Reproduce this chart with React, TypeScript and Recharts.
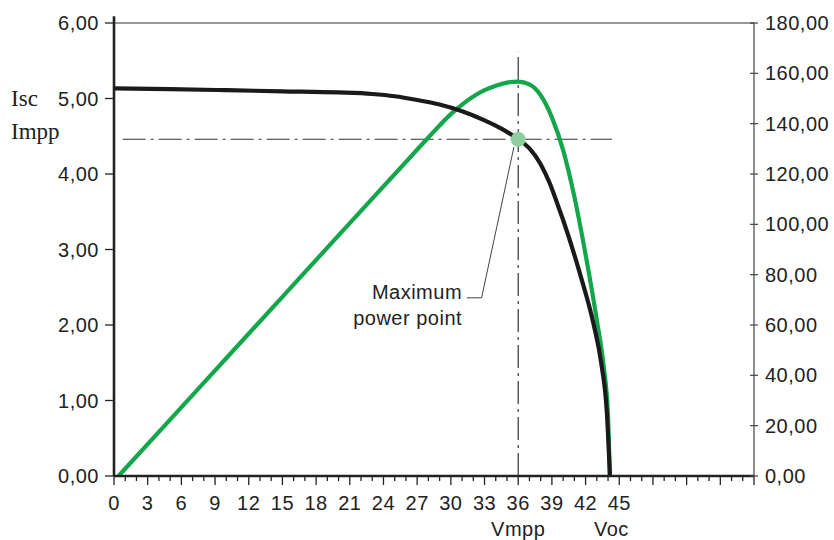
import React from 'react';
import { LineChart, Line, XAxis, YAxis, ReferenceLine, ReferenceDot } from 'recharts';

// I-V curve of the module: voltage (V) against current (A)
const ivVoltage = [0, 5, 10, 15, 20, 23, 25, 27, 29, 31, 33, 34.5, 36, 37, 38, 38.8, 39.5, 40, 41.5, 42.7, 43.4, 43.9, 44.17];
const ivCurrent = [5.135, 5.125, 5.11, 5.095, 5.08, 5.06, 5.03, 4.98, 4.92, 4.83, 4.71, 4.6, 4.46, 4.34, 4.13, 3.88, 3.6, 3.39, 2.68, 2.02, 1.49, 0.83, 0];

// P-V curve: voltage (V) against power (W)
const pvVoltage = [0.4, 5, 10, 15, 20, 24, 26, 28, 30, 31, 32, 33, 34, 35, 36, 37, 38, 39, 40, 41, 42, 43, 43.6, 44, 44.17];
const pvPower = [0, 22.4, 46.8, 71.2, 95.6, 115.1, 124.8, 134.5, 143.8, 147.6, 150.8, 153.3, 155.1, 156.3, 156.7, 155.6, 151.3, 142.5, 129.5, 111, 88, 62, 44, 24, 0];

// maximum power point and open-circuit voltage
const mppVoltage = 36;
const mppCurrent = 4.46;
const ocVoltage = 44.3;

const voltLabels = [0, 3, 6, 9, 12, 15, 18, 21, 24, 27, 30, 33, 36, 39, 42, 45];
const voltTicks = Array.from({ length: 58 }, (_, k) => k);
const currentTicks = [0, 1, 2, 3, 4, 5, 6];
const powerTicks = [0, 20, 40, 60, 80, 100, 120, 140, 160, 180];

const ivData = ivVoltage.map((v, k) => ({ v, i: ivCurrent[k] }));
const pvData = pvVoltage.map((v, k) => ({ v, p: pvPower[k] }));

const SANS = '"Liberation Sans", Arial, Helvetica, sans-serif';
const SERIF = '"Liberation Serif", "Times New Roman", serif';
const INK = '#222';
const GREEN = '#13a64b';

const fmt = (n: number) => n.toFixed(2).replace('.', ',');

const VoltTick = ({ x, y, payload }: any) => {
  const v = payload.value;
  const major = v % 3 === 0;
  return (
    <g>
      <line x1={x} x2={x} y1={y} y2={y + (major ? 9 : 5)} stroke={INK} strokeWidth={1.3} />
      {voltLabels.includes(v) && (
        <text x={x} y={y + 34} textAnchor="middle" fill={INK} fontFamily={SANS} fontSize={20} letterSpacing={0.5}>
          {v}
        </text>
      )}
    </g>
  );
};

const CurrentTick = ({ x, y, payload }: any) => (
  <g>
    <line x1={x - 9} x2={x} y1={y} y2={y} stroke={INK} strokeWidth={1.3} />
    <text x={x - 15} y={y + 7} textAnchor="end" fill={INK} fontFamily={SANS} fontSize={20} letterSpacing={0.5}>
      {fmt(payload.value)}
    </text>
  </g>
);

const PowerTick = ({ x, y, payload }: any) => (
  <g>
    <line x1={x - 4} x2={x + 4} y1={y} y2={y} stroke="#444" strokeWidth={1.2} />
    <text x={x + 11} y={y + 7} textAnchor="start" fill={INK} fontFamily={SANS} fontSize={20} letterSpacing={0.5}>
      {fmt(payload.value)}
    </text>
  </g>
);

// text placed at a reference dot's position
const Note = ({ viewBox, lines, anchor = 'start', serif = false }: any) => (
  <text
    x={viewBox.x}
    y={viewBox.y}
    textAnchor={anchor}
    fill={INK}
    fontFamily={serif ? SERIF : SANS}
    fontSize={serif ? 23 : 20}
    letterSpacing={serif ? 0 : 0.5}
  >
    {lines.map((s: string, k: number) => (
      <tspan key={k} x={viewBox.x} dy={k ? 26 : 0}>
        {s}
      </tspan>
    ))}
  </text>
);

const dashDot = '23 5 3 5';

const App: React.FC = () => {
  return (
    <div style={{ position: 'absolute', left: 0, top: 0, width: 834, height: 540, background: '#fff' }}>
      <LineChart width={834} height={540} margin={{ top: 23, right: 10, bottom: 24, left: 14 }}>
        <XAxis
          type="number"
          dataKey="v"
          domain={[0, 57]}
          ticks={voltTicks}
          interval={0}
          tick={<VoltTick />}
          tickSize={0}
          tickMargin={0}
          tickLine={false}
          axisLine={{ stroke: INK, strokeWidth: 2.6 }}
          height={40}
          allowDataOverflow
        />
        <YAxis
          yAxisId="i"
          orientation="left"
          domain={[0, 6]}
          ticks={currentTicks}
          interval={0}
          tick={<CurrentTick />}
          tickSize={0}
          tickMargin={0}
          tickLine={false}
          axisLine={false}
          width={100}
        />
        <YAxis
          yAxisId="p"
          orientation="right"
          domain={[0, 180]}
          ticks={powerTicks}
          interval={0}
          tick={<PowerTick />}
          tickSize={0}
          tickMargin={0}
          tickLine={false}
          axisLine={{ stroke: '#444', strokeWidth: 1.2 }}
          width={70}
        />

        <ReferenceLine yAxisId="i" y={6} stroke="#333" strokeWidth={1.2} />
        <ReferenceLine
          yAxisId="i"
          segment={[{ x: 0, y: 0 }, { x: 0, y: 6.09 }]}
          stroke={INK}
          strokeWidth={2.6}
          ifOverflow="visible"
        />

        <ReferenceLine
          yAxisId="i"
          segment={[{ x: 0.77, y: mppCurrent }, { x: 44.35, y: mppCurrent }]}
          stroke="#333"
          strokeWidth={1.2}
          strokeDasharray={dashDot}
        />
        <ReferenceLine
          yAxisId="i"
          segment={[{ x: mppVoltage, y: 0 }, { x: mppVoltage, y: 5.62 }]}
          stroke="#333"
          strokeWidth={1.2}
          strokeDasharray={dashDot}
        />
        <ReferenceLine
          yAxisId="i"
          segment={[{ x: 35.62, y: 4.36 }, { x: 32.74, y: 2.36 }]}
          stroke="#444"
          strokeWidth={1}
        />
        <ReferenceLine
          yAxisId="i"
          segment={[{ x: 32.74, y: 2.36 }, { x: 31.43, y: 2.36 }]}
          stroke="#444"
          strokeWidth={1}
        />

        <Line
          yAxisId="p"
          data={pvData}
          dataKey="p"
          type="monotone"
          stroke={GREEN}
          strokeWidth={4.2}
          dot={false}
          isAnimationActive={false}
        />
        <Line
          yAxisId="i"
          data={ivData}
          dataKey="i"
          type="monotone"
          stroke="#1a1a1a"
          strokeWidth={4.2}
          dot={false}
          isAnimationActive={false}
        />

        <ReferenceDot yAxisId="i" x={mppVoltage} y={mppCurrent} r={7.5} fill="#8dcf9d" stroke="none" />

        <ReferenceDot yAxisId="i" x={31} y={2.34} r={0} ifOverflow="visible" label={<Note lines={['Maximum']} anchor="end" />} />
        <ReferenceDot yAxisId="i" x={31} y={2.0} r={0} ifOverflow="visible" label={<Note lines={['power point']} anchor="end" />} />
        <ReferenceDot yAxisId="i" x={-9.17} y={4.9} r={0} ifOverflow="visible" label={<Note lines={['Isc']} serif />} />
        <ReferenceDot yAxisId="i" x={-9.17} y={4.46} r={0} ifOverflow="visible" label={<Note lines={['Impp']} serif />} />
        <ReferenceDot yAxisId="i" x={mppVoltage} y={-0.795} r={0} ifOverflow="visible" label={<Note lines={['Vmpp']} anchor="middle" />} />
        <ReferenceDot yAxisId="i" x={ocVoltage} y={-0.795} r={0} ifOverflow="visible" label={<Note lines={['Voc']} anchor="middle" />} />
      </LineChart>
    </div>
  );
};

export default App;
